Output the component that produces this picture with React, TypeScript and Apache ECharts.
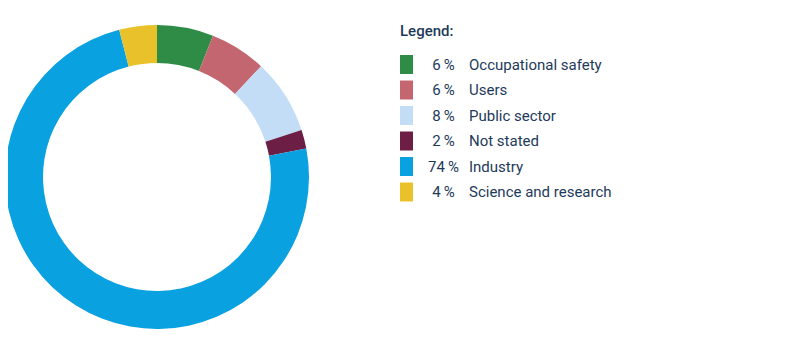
import React, { useEffect, useRef } from "react";
import * as echarts from "echarts";

const categories = ["Occupational safety", "Users", "Public sector", "Not stated", "Industry", "Science and research"];
const shares = [6, 6, 8, 2, 74, 4];
const colors = ["#2f8c46", "#c4666f", "#c2ddf5", "#6d1e44", "#0aa1e1", "#e9c22b"];
const legendTitle = "Legend:";
const textColor = "#1d3a5a";
const font = "Roboto, 'DejaVu Sans', sans-serif";

export default function App() {
  const ref = useRef<HTMLDivElement>(null);
  useEffect(() => {
    if (!ref.current) return;
    const chart = echarts.init(ref.current, null, { renderer: "svg" });
    const data = categories.map((c, i) => ({ name: c, value: shares[i], itemStyle: { color: colors[i] } }));
    const lookup: Record<string, number> = {};
    categories.forEach((c, i) => (lookup[c] = shares[i]));
    chart.setOption({
      animation: false,
      title: {
        text: legendTitle,
        left: 387,
        top: 10,
        textStyle: { color: textColor, fontSize: 15, fontWeight: 500, fontFamily: font },
      },
      legend: {
        orient: "vertical",
        left: 387,
        top: 42,
        itemWidth: 13,
        itemHeight: 19,
        itemGap: 6.5,
        icon: "rect",
        selectedMode: false,
        data: categories,
        formatter: (name: string) => `{p|${lookup[name]}\u2009%}{n|${name}}`,
        textStyle: {
          color: textColor,
          fontFamily: font,
          fontSize: 15,
          rich: {
            p: { width: 51, align: "right", color: textColor, fontSize: 15, fontFamily: font },
            n: { padding: [0, 0, 0, 0], color: textColor, fontSize: 15, fontFamily: font },
          },
        },
      },
      series: [
        {
          type: "pie",
          center: [149, 169],
          radius: [114, 152],
          startAngle: 90,
          clockwise: true,
          label: { show: false },
          labelLine: { show: false },
          emphasis: { disabled: true },
          data,
        },
      ],
    });
    return () => chart.dispose();
  }, []);
  return <div ref={ref} style={{ width: 785, height: 335 }} />;
}
